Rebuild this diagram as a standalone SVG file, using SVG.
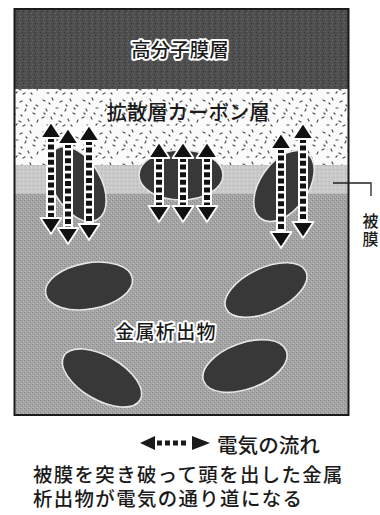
<svg xmlns="http://www.w3.org/2000/svg" width="380" height="515" viewBox="0 0 380 515">
  <style>
    .jp { font-family: "Liberation Sans", "Noto Sans CJK JP", sans-serif; fill: #1a1a1a; font-weight: 500; }
    .halo { paint-order: stroke; stroke: #ffffff; stroke-width: 4; stroke-linejoin: round; }
    .grain { fill: #383838; stroke: #e6e6e6; stroke-width: 1.6; }
    .shaft-bg { stroke: #ffffff; stroke-width: 10; }
    .shaft { stroke: #111111; stroke-width: 6; stroke-dasharray: 5 2.6; }
    .head { fill: #111111; stroke: #ffffff; stroke-width: 1.8; stroke-linejoin: round; }
    .lead { fill: none; stroke: #222222; stroke-width: 1.3; }
  </style>
  <defs>
    <!-- halftone textures for the layers -->
    <pattern id="texTop" width="6" height="6" patternUnits="userSpaceOnUse">
      <rect width="6" height="6" fill="#4f4f4f"/>
      <rect x="1" y="1" width="1" height="1" fill="#6c6c6c"/>
      <rect x="4" y="2" width="1" height="1" fill="#353535"/>
      <rect x="2" y="4" width="1" height="1" fill="#666666"/>
      <rect x="5" y="5" width="1" height="1" fill="#2f2f2f"/>
    </pattern>
    <pattern id="texDiff" width="40" height="32" patternUnits="userSpaceOnUse">
      <rect width="40" height="32" fill="#fbfbfb"/>
      <g stroke="#4a4a4a" stroke-width="1.2" stroke-linecap="round" fill="none">
        <path d="M3,4 l2,1 M12,2 l1,2 M20,6 l2,-1 M30,3 l1,2 M36,9 l2,1 M6,13 l1,2 M16,12 l2,0 M25,15 l1,-2 M33,17 l2,1 M2,22 l2,-1 M11,21 l1,2 M19,25 l2,1 M28,23 l1,2 M37,26 l1,-2 M7,29 l2,0 M23,30 l2,-1 M14,17 l1,1 M31,29 l1,1 M9,7 l1,1 M26,9 l1,1 M34,12 l1,1 M21,19 l1,1 M4,17 l1,1 M16,29 l1,-1"/>
      </g>
    </pattern>
    <pattern id="texCoat" width="4" height="4" patternUnits="userSpaceOnUse">
      <rect width="4" height="4" fill="#c9c9c9"/>
      <rect x="1" y="1" width="1" height="1" fill="#b2b2b2"/>
      <rect x="3" y="3" width="1" height="1" fill="#dadada"/>
    </pattern>
    <pattern id="texBase" width="4" height="4" patternUnits="userSpaceOnUse">
      <rect width="4" height="4" fill="#a3a3a3"/>
      <rect x="0" y="0" width="1" height="1" fill="#858585"/>
      <rect x="2" y="2" width="1" height="1" fill="#8a8a8a"/>
      <rect x="1" y="3" width="1" height="1" fill="#c3c3c3"/>
      <rect x="3" y="1" width="1" height="1" fill="#c0c0c0"/>
    </pattern>
    <!-- arrowhead, tip at the origin pointing up -->
    <path id="head" d="M0,0 L10.5,16 L-10.5,16 Z"/>
  </defs>

  <!-- layered cross-section -->
  <g id="layers">
    <rect x="14" y="9" width="334" height="80" fill="url(#texTop)"/>
    <rect x="14" y="89" width="334" height="76" fill="url(#texDiff)"/>
    <rect x="14" y="165" width="334" height="29" fill="url(#texCoat)"/>
    <rect x="14" y="194" width="334" height="221" fill="url(#texBase)"/>
  </g>

  <!-- metal precipitates -->
  <g id="precipitates">
    <ellipse class="grain" cx="77" cy="184" rx="24" ry="41" transform="rotate(-30 77 184)"/>
    <ellipse class="grain" cx="181" cy="175" rx="42" ry="25"/>
    <ellipse class="grain" cx="284" cy="186" rx="24" ry="40" transform="rotate(35 284 186)"/>
    <ellipse class="grain" cx="89" cy="286" rx="44" ry="23" transform="rotate(-10 89 286)"/>
    <ellipse class="grain" cx="266" cy="290" rx="44" ry="22" transform="rotate(-25 266 290)"/>
    <ellipse class="grain" cx="102" cy="378" rx="44" ry="22" transform="rotate(30 102 378)"/>
    <ellipse class="grain" cx="245" cy="366" rx="44" ry="23" transform="rotate(-20 245 366)"/>
  </g>

  <!-- current paths through the film -->
  <g id="connectors">
    <g id="current-left">
      <line class="shaft-bg" x1="51" y1="136" x2="51" y2="220"/>
      <line class="shaft" x1="51" y1="137" x2="51" y2="219"/>
      <line class="shaft-bg" x1="68" y1="142" x2="68" y2="230"/>
      <line class="shaft" x1="68" y1="143" x2="68" y2="229"/>
      <line class="shaft-bg" x1="89" y1="139" x2="89" y2="226"/>
      <line class="shaft" x1="89" y1="140" x2="89" y2="225"/>
      <use href="#head" class="head" transform="translate(51 122)"/>
      <use href="#head" class="head" transform="translate(68 128)"/>
      <use href="#head" class="head" transform="translate(89 125)"/>
      <use href="#head" class="head" transform="translate(51 234) rotate(180)"/>
      <use href="#head" class="head" transform="translate(68 244) rotate(180)"/>
      <use href="#head" class="head" transform="translate(89 240) rotate(180)"/>
    </g>
    <g id="current-middle">
      <line class="shaft-bg" x1="159" y1="156" x2="159" y2="208"/>
      <line class="shaft" x1="159" y1="157" x2="159" y2="207"/>
      <line class="shaft-bg" x1="183" y1="156" x2="183" y2="208"/>
      <line class="shaft" x1="183" y1="157" x2="183" y2="207"/>
      <line class="shaft-bg" x1="207" y1="156" x2="207" y2="208"/>
      <line class="shaft" x1="207" y1="157" x2="207" y2="207"/>
      <use href="#head" class="head" transform="translate(159 142)"/>
      <use href="#head" class="head" transform="translate(183 142)"/>
      <use href="#head" class="head" transform="translate(207 142)"/>
      <use href="#head" class="head" transform="translate(159 222) rotate(180)"/>
      <use href="#head" class="head" transform="translate(183 222) rotate(180)"/>
      <use href="#head" class="head" transform="translate(207 222) rotate(180)"/>
    </g>
    <g id="current-right">
      <line class="shaft-bg" x1="281" y1="147" x2="281" y2="234"/>
      <line class="shaft" x1="281" y1="148" x2="281" y2="233"/>
      <line class="shaft-bg" x1="303" y1="137" x2="303" y2="224"/>
      <line class="shaft" x1="303" y1="138" x2="303" y2="223"/>
      <use href="#head" class="head" transform="translate(281 133)"/>
      <use href="#head" class="head" transform="translate(303 123)"/>
      <use href="#head" class="head" transform="translate(281 248) rotate(180)"/>
      <use href="#head" class="head" transform="translate(303 238) rotate(180)"/>
    </g>
    <!-- leader to the film label -->
    <path class="lead" d="M333,183 H371 V196"/>
  </g>

  <!-- layer labels -->
  <g id="label-polymer">
    <text class="jp halo" x="180" y="57" font-size="19.5" text-anchor="middle">高分子膜層</text>
  </g>
  <g id="label-diffusion">
    <text class="jp" x="188" y="120" font-size="20.4" text-anchor="middle">拡散層カーボン層</text>
  </g>
  <g id="label-precipitate">
    <text class="jp halo" x="166" y="339" font-size="19" letter-spacing="1.3" text-anchor="middle">金属析出物</text>
  </g>
  <g id="label-film">
    <text class="jp" x="362.5" y="227" font-size="16">被</text>
    <text class="jp" x="362.5" y="245" font-size="16">膜</text>
  </g>

  <!-- outer frame -->
  <rect x="14.5" y="9" width="334" height="406" fill="none" stroke="#1a1a1a" stroke-width="2"/>

  <!-- legend -->
  <g id="legend">
    <path d="M140,443 L155,436 L155,450 Z" fill="#1a1a1a"/>
    <g fill="#1a1a1a">
      <rect x="157" y="440.5" width="5" height="5"/>
      <rect x="165" y="440.5" width="5" height="5"/>
      <rect x="173" y="440.5" width="5" height="5"/>
      <rect x="181" y="440.5" width="5" height="5"/>
    </g>
    <path d="M210,443 L192,436 L192,450 Z" fill="#1a1a1a"/>
    <text class="jp" x="217" y="453" font-size="20.6">電気の流れ</text>
  </g>

  <!-- caption -->
  <g id="caption">
    <text class="jp" font-size="19.4" letter-spacing="1.4"><tspan x="33" y="482">被膜を突き破って頭を出した金属</tspan><tspan x="33" y="505.5">析出物が電気の通り道になる</tspan></text>
  </g>
</svg>
